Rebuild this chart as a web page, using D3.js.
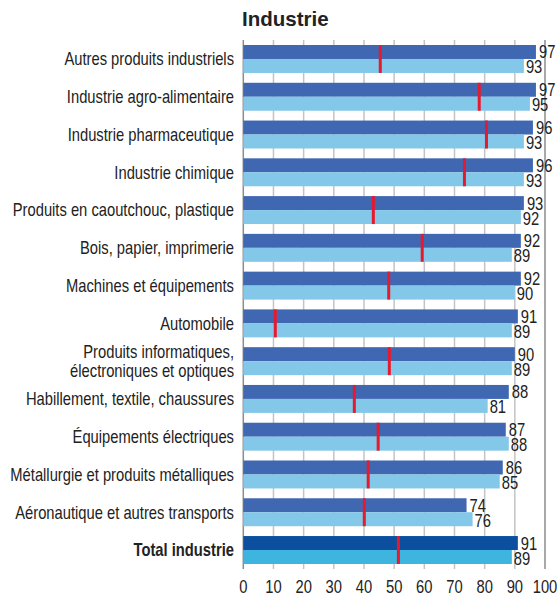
<!DOCTYPE html>
<html>
<head>
<meta charset="utf-8">
<script src="https://cdn.jsdelivr.net/npm/d3@7"></script>
<style>
  body { margin: 0; background: #fff; }
  svg { display: block; font-family: "Liberation Sans", Arial, sans-serif; }
</style>
</head>
<body>
<div id="chart"></div>
<script>
// categories (top to bottom)
const categories = [
  "Autres produits industriels",
  "Industrie agro-alimentaire",
  "Industrie pharmaceutique",
  "Industrie chimique",
  "Produits en caoutchouc, plastique",
  "Bois, papier, imprimerie",
  "Machines et équipements",
  "Automobile",
  "Produits informatiques,|électroniques et optiques",
  "Habillement, textile, chaussures",
  "Équipements électriques",
  "Métallurgie et produits métalliques",
  "Aéronautique et autres transports",
  "Total industrie"
];
// upper (dark) bars
const darkValues = [97, 97, 96, 96, 93, 92, 92, 91, 90, 88, 87, 86, 74, 91];
// lower (light) bars
const lightValues = [93, 95, 93, 93, 92, 89, 90, 89, 89, 81, 88, 85, 76, 89];
// red markers
const markerValues = [45.4, 78.2, 80.6, 73.3, 43.1, 59.3, 48.2, 10.6, 48.4, 36.8, 44.7, 41.4, 40.1, 51.4];
const tickValues = [0, 10, 20, 30, 40, 50, 60, 70, 80, 90, 100];

const width = 558, height = 597;
const sx = 0.82; // narrow text look

const svg = d3.select("#chart").append("svg")
  .attr("width", width)
  .attr("height", height);

const x = d3.scaleLinear().domain([0, 100]).range([243.3, 545]);
const y = d3.scaleBand().domain(d3.range(categories.length))
  .range([40.1, 568.9]).paddingInner(0.26).paddingOuter(0.13);
const sub = d3.scaleBand().domain(["dark", "light"]).range([0, y.bandwidth()]);

const isTotal = i => i === categories.length - 1;

//----------------------------------------
// Title
//----------------------------------------
svg.append("text")
  .attr("x", 242)
  .attr("y", 26)
  .attr("font-size", "20.5px")
  .attr("font-weight", "bold")
  .attr("fill", "#222")
  .text("Industrie");

//----------------------------------------
// Grid lines
//----------------------------------------
svg.append("g").selectAll("line")
  .data(tickValues)
  .enter()
  .append("line")
  .attr("x1", d => x(d))
  .attr("x2", d => x(d))
  .attr("y1", 40)
  .attr("y2", 569)
  .attr("stroke", d => (d === 0 || d === 100) ? "#8c8c8c" : "#c4c4c4")
  .attr("stroke-width", 1.5);

//----------------------------------------
// Bars
//----------------------------------------
const rows = svg.append("g").selectAll("g")
  .data(categories.map((c, i) => ({c, i})))
  .enter()
  .append("g")
  .attr("transform", d => `translate(0,${y(d.i)})`);

rows.append("rect")
  .attr("x", x(0))
  .attr("y", sub("dark"))
  .attr("width", d => x(darkValues[d.i]) - x(0))
  .attr("height", sub.bandwidth())
  .attr("fill", d => isTotal(d.i) ? "#0b4f9e" : "#4068b2");

rows.append("rect")
  .attr("x", x(0))
  .attr("y", sub("light"))
  .attr("width", d => x(lightValues[d.i]) - x(0))
  .attr("height", sub.bandwidth())
  .attr("fill", d => isTotal(d.i) ? "#3db5df" : "#83c8e8");

rows.append("rect")
  .attr("x", d => x(markerValues[d.i]) - 1.5)
  .attr("y", 0)
  .attr("width", 3)
  .attr("height", y.bandwidth())
  .attr("fill", "#e8192c");

//----------------------------------------
// Value labels
//----------------------------------------
rows.append("text")
  .attr("transform", d => `translate(${x(darkValues[d.i]) + 3},${sub("dark") + sub.bandwidth() / 2 + 6.5}) scale(${sx},1)`)
  .attr("font-size", "18px")
  .attr("fill", "#222")
  .text(d => darkValues[d.i]);

rows.append("text")
  .attr("transform", d => `translate(${x(lightValues[d.i]) + 2},${sub("light") + sub.bandwidth() / 2 + 7.5}) scale(${sx},1)`)
  .attr("font-size", "18px")
  .attr("fill", "#222")
  .text(d => lightValues[d.i]);

//----------------------------------------
// Category labels
//----------------------------------------
rows.each(function(d) {
  const lines = d.c.split("|");
  const mid = y.bandwidth() / 2;
  lines.forEach((line, k) => {
    const off = (k - (lines.length - 1) / 2) * 19;
    d3.select(this).append("text")
      .attr("transform", `translate(234,${mid + off + 6.3}) scale(${sx},1)`)
      .attr("text-anchor", "end")
      .attr("font-size", "18px")
      .attr("font-weight", isTotal(d.i) ? "bold" : "normal")
      .attr("fill", "#222")
      .text(line);
  });
});

//----------------------------------------
// X axis labels
//----------------------------------------
svg.append("g").selectAll("text")
  .data(tickValues)
  .enter()
  .append("text")
  .attr("transform", d => `translate(${x(d)},593) scale(${sx},1)`)
  .attr("text-anchor", "middle")
  .attr("font-size", "18px")
  .attr("fill", "#222")
  .text(d => d);
</script>
</body>
</html>
